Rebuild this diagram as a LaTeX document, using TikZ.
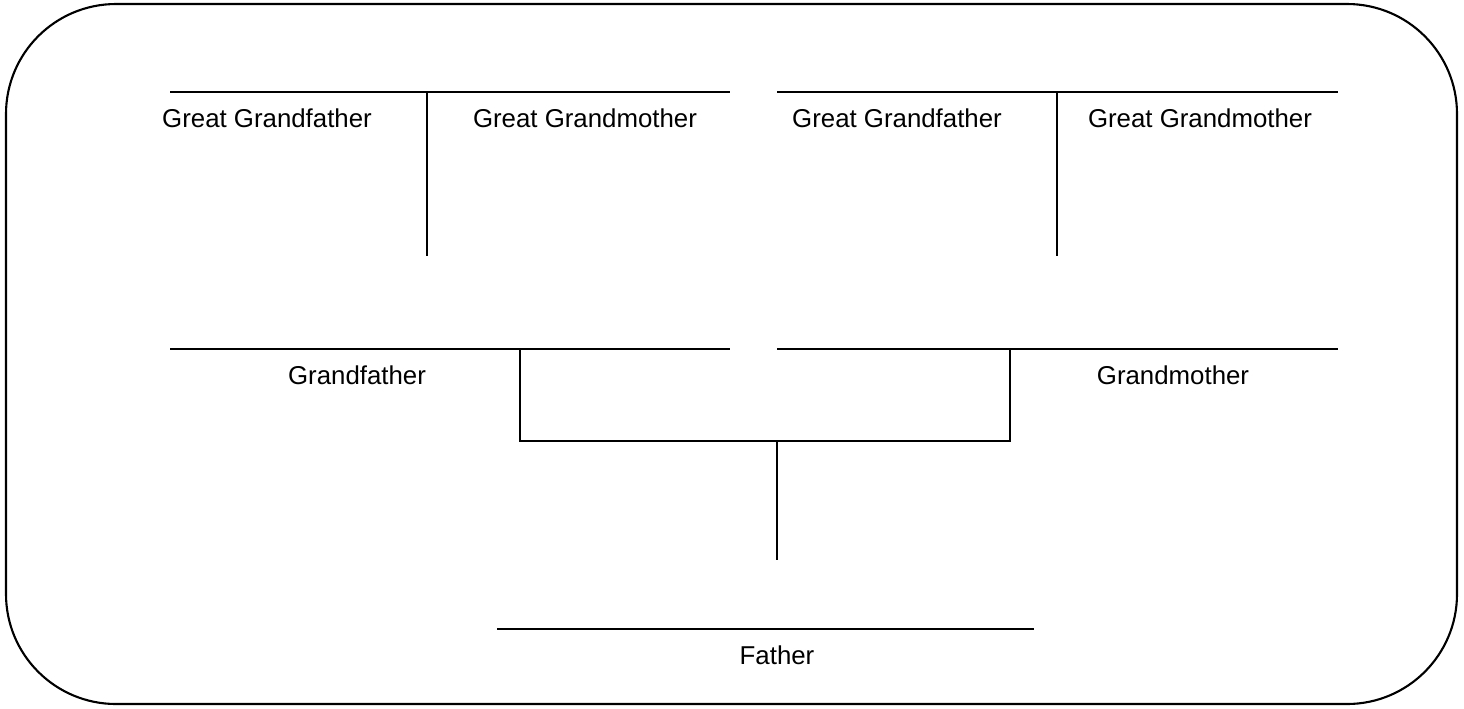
\documentclass[tikz,border=0pt]{standalone}
\usepackage{fontspec}
\setmainfont{Liberation Sans}
\begin{document}
\begin{tikzpicture}[x=0.02cm, y=-0.02cm, line width=1.1pt, every node/.style={inner sep=0pt, font=\fontsize{14.7}{17}\selectfont}]
\useasboundingbox (0,0) rectangle (1464,708);
\draw[line width=1.2pt, rounded corners=2.2cm] (6,4) rectangle (1457,704);
% top row
\coordinate (T1L) at (170,92);
\coordinate (T1R) at (730,92);
\coordinate (T2L) at (777,92);
\coordinate (T2R) at (1338,92);
\coordinate (V1T) at (427,92);
\coordinate (V1B) at (427,256);
\coordinate (V2T) at (1057,92);
\coordinate (V2B) at (1057,256);
\node (GGF1) at (267,118) {Great Grandfather};
\node (GGM1) at (585,118) {Great Grandmother};
\node (GGF2) at (897,118) {Great Grandfather};
\node (GGM2) at (1200,118) {Great Grandmother};
\draw (T1L) -- (T1R);
\draw (T2L) -- (T2R);
\draw (V1T) -- (V1B);
\draw (V2T) -- (V2B);
% middle row
\coordinate (M1L) at (170,349);
\coordinate (M1R) at (730,349);
\coordinate (M2L) at (777,349);
\coordinate (M2R) at (1338,349);
\coordinate (K1T) at (520,349);
\coordinate (K2T) at (1010,349);
\coordinate (K1B) at (520,441);
\coordinate (K2B) at (1010,441);
\coordinate (KM) at (777,441);
\coordinate (KD) at (777,560);
\node (GF) at (357,375) {Grandfather};
\node (GM) at (1173,375) {Grandmother};
\draw (M1L) -- (M1R);
\draw (M2L) -- (M2R);
\draw (K1T) -- (K1B) -- (K2B) -- (K2T);
\draw (KM) -- (KD);
% bottom row
\coordinate (B1L) at (497,629);
\coordinate (B1R) at (1034,629);
\node (F) at (777,655) {Father};
\draw (B1L) -- (B1R);
\end{tikzpicture}
\end{document}
